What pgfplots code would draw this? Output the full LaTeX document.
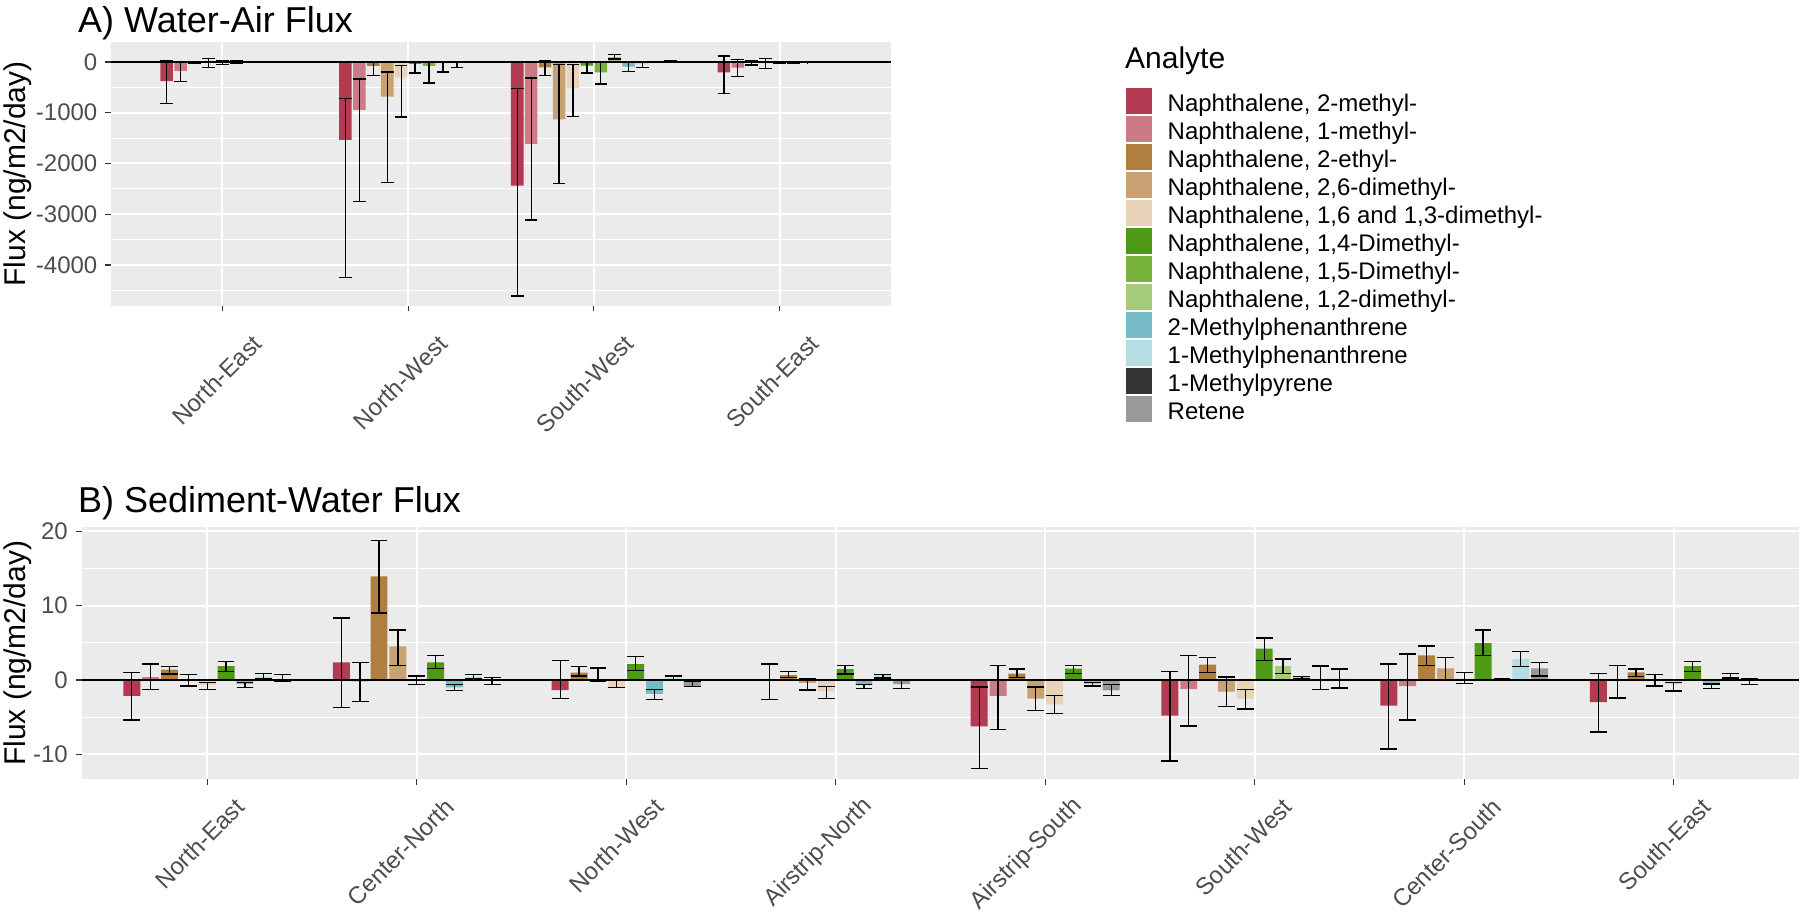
\documentclass[border=0pt]{standalone}
\usepackage{fontspec}
\setmainfont{Liberation Sans}
\usepackage{pgfplots}
\pgfplotsset{compat=1.18}
\usepackage{pgfplotstable}

\definecolor{cA}{HTML}{B23B52}
\definecolor{cB}{HTML}{CC7A86}
\definecolor{cC}{HTML}{B07E3F}
\definecolor{cD}{HTML}{C9A273}
\definecolor{cE}{HTML}{E8D3BA}
\definecolor{cF}{HTML}{4F9A14}
\definecolor{cG}{HTML}{77B23D}
\definecolor{cH}{HTML}{A3CB7B}
\definecolor{cI}{HTML}{77BAC8}
\definecolor{cJ}{HTML}{B5DDE4}
\definecolor{cK}{HTML}{333333}
\definecolor{cL}{HTML}{999999}
\definecolor{panelbg}{HTML}{EBEBEB}
\definecolor{ticktext}{HTML}{4D4D4D}
\definecolor{tickmark}{HTML}{333333}

% ---------- Panel A data: x  y  error-plus  error-minus ----------
\pgfplotstableread{
x y ep em
0.7 -375 401 439
1.6625 -1537 815 2712
2.5875 -2436 1911 2174
3.7 -204 322 420
}\Aa
\pgfplotstableread{
x y ep em
0.775 -177 171 211
1.7375 -946 611 1806
2.6625 -1615 1300 1498
3.775 -112 158 177
}\Ab
\pgfplotstableread{
x y ep em
0.85 -8 13 12
1.8125 -79 66 190
2.7375 -105 125 158
3.85 -15 35 44
}\Ac
\pgfplotstableread{
x y ep em
0.925 -15 88 89
1.8875 -683 486 1688
2.8125 -1130 1077 1260
3.925 -20 86 105
}\Ad
\pgfplotstableread{
x y ep em
1.0 -12 32 33
1.9625 -302 230 782
2.8875 -519 473 558
4.0 -5 18 15
}\Ae
\pgfplotstableread{
x y ep em
1.075 -5 30 20
2.0375 -39 26 178
2.9625 -72 65 145
4.075 -10 15 15
}\Af
\pgfplotstableread{
x y ep em
2.1125 -79 66 335
3.0375 -204 197 229
}\Ag
\pgfplotstableread{
x y ep em
3.1125 95 50 36
}\Ah
\pgfplotstableread{
x y ep em
1.15 -3 3 3
2.1875 -20 20 177
3.1875 -90 85 100
4.15 -12 3 3
}\Ai
\pgfplotstableread{
x y ep em
1.225 -2 2 2
2.2625 -10 10 95
3.2625 -46 40 58
4.225 -2 1 1
}\Aj
\pgfplotstableread{
x y ep em
1.3 -1 1 1
2.3375 -2 2 2
3.3375 -2 2 2
4.3 -1 1 1
}\Ak
\pgfplotstableread{
x y ep em
3.4125 20 3 3
}\Al

% ---------- Panel B data ----------
\pgfplotstableread{
x y ep em
0.64 -2.15 3.14 3.23
1.64 2.38 5.96 6.10
2.685 -1.35 3.95 1.12
3.685 0.02 2.13 2.67
4.685 -6.23 5.29 5.65
5.595 -4.8 5.97 6.1
6.64 -3.45 5.6 5.83
7.64 -2.96 3.81 4.04
}\Ba
\pgfplotstableread{
x y ep em
0.73 0.4 1.75 1.7
1.73 -0.18 2.51 2.73
4.775 -2.15 4.12 4.53
5.685 -1.21 4.53 4.98
6.73 -0.81 4.31 4.57
7.73 -0.1 2.07 2.32
}\Bb
\pgfplotstableread{
x y ep em
0.82 1.39 0.45 0.58
1.82 13.95 4.85 4.94
2.775 0.99 0.8 0.45
3.775 0.67 0.45 0.31
4.865 0.85 0.63 0.54
5.775 2.06 0.94 1.07
6.82 3.32 1.25 1.35
7.82 1.03 0.45 0.54
}\Bc
\pgfplotstableread{
x y ep em
0.91 -0.05 0.77 0.76
1.91 4.53 2.2 2.56
2.865 -0.15 1.76 0.03
3.865 -0.4 0.53 0.95
4.955 -2.51 1.57 1.57
5.865 -1.57 1.97 2.02
6.91 1.57 1.43 1.53
7.91 -0.05 0.77 0.76
}\Bd
\pgfplotstableread{
x y ep em
1.0 -0.67 0.36 0.63
2.0 -0.05 0.59 0.58
2.955 -0.95 0.86 0.08
3.955 -1.52 0.62 0.95
5.045 -3.27 1.21 1.26
5.955 -2.51 1.25 1.39
7.0 0.2 0.79 0.65
8.0 -0.58 0.27 0.9
}\Be
\pgfplotstableread{
x y ep em
1.09 1.88 0.63 0.76
2.09 2.38 0.94 0.86
3.045 2.15 0.99 0.89
4.045 1.48 0.49 0.67
5.135 1.52 0.45 0.67
6.045 4.22 1.43 1.57
7.09 4.98 1.75 1.71
8.09 1.88 0.63 0.71
}\Bf
\pgfplotstableread{
x y ep em
6.135 1.88 0.95 1.03
}\Bh
\pgfplotstableread{
x y ep em
1.18 -0.54 0.23 0.49
2.18 -1.0 0.37 0.43
3.135 -1.88 0.58 0.77
4.135 -0.67 0.02 0.5
5.225 -0.49 0.13 0.32
6.225 0.36 0.09 0.23
7.18 0.15 0.03 0.03
8.18 -0.58 0.04 0.54
}\Bi
\pgfplotstableread{
x y ep em
1.27 0.49 0.36 0.36
2.27 0.45 0.27 0.32
3.225 0.27 0.27 0.27
4.225 0.72 0.02 0.45
6.315 0.1 1.78 1.4
7.27 2.83 0.98 0.99
8.27 0.4 0.45 0.13
}\Bj
\pgfplotstableread{
x y ep em
1.36 -0.1 0.82 0.08
2.36 -0.1 0.46 0.53
3.315 -0.85 0.72 0.02
4.315 -0.54 0.45 0.63
5.315 -1.39 0.76 0.72
6.405 0.15 1.33 1.23
7.36 1.57 0.76 1.03
8.36 -0.1 0.32 0.53
}\Bl

\pgfplotsset{
  gg/.style={
    scale only axis,
    axis background/.style={fill=panelbg},
    axis line style={draw=none},
    tick align=outside,
    tick pos=left,
    major tick length=5.5pt,
    minor tick length=0pt,
    every tick/.append style={draw=tickmark, line width=1.1pt},
    xmajorgrids, ymajorgrids, yminorgrids,
    major grid style={draw=white, line width=2pt},
    minor grid style={draw=white, line width=1pt},
    tick label style={font=\fontsize{24}{28}\selectfont, text=ticktext},
    yticklabel style={anchor=east, inner sep=0pt, xshift=-8pt},
    error bars/y dir=both,
    error bars/y explicit,
    error bars/error bar style={draw=black, line width=1.3pt},
  },
  sqlegend/.style={legend image code/.code={\fill[##1] (0pt,-13pt) rectangle (26pt,13pt);}},
  barA/.style={ybar, bar width=0.0675, bar shift=0pt, draw=none, fill=#1, sqlegend},
  barB/.style={ybar, bar width=0.081, bar shift=0pt, draw=none, fill=#1},
}

\begin{document}
\begin{tikzpicture}[x=1pt,y=1pt]
\useasboundingbox (0,0) rectangle (1800,915);

% ---------------- Panel A ----------------
\begin{axis}[gg,
  at={(111pt,609pt)}, anchor=south west,
  width=780pt, height=264pt,
  xmin=0.4, xmax=4.6, ymin=-4808, ymax=394,
  xtick={1,2,3,4},
  xticklabels={North-East,North-West,South-West,South-East},
  xticklabel style={inner sep=0pt, xshift=35pt, yshift=-28pt, rotate=45, anchor=east},
  ytick={-4000,-3000,-2000,-1000,0},
  yticklabels={-4000,-3000,-2000,-1000,0},
  minor ytick={-4500,-3500,-2500,-1500,-500},
  ylabel={Flux (ng/m2/day)},
  every axis y label/.style={at={(axis description cs:0,0.5)}, xshift=-93pt, rotate=90, anchor=center, font=\fontsize{30}{36}\selectfont},
  error bars/error mark options={draw=black, line width=1.3pt, mark size=6.3pt, rotate=90},
  legend style={at={(1.3009,0.8307)}, anchor=north west, draw=none, fill=none,
    inner sep=0pt, outer sep=0pt, row sep=0pt,
    font=\fontsize{24}{28}\selectfont,
    nodes={inner sep=0pt, text height=25pt, text depth=3pt},
    /tikz/every odd column/.append style={column sep=16pt}},
  legend cell align=left,
]
\addplot[barA=cA] table[x=x,y=y,y error plus=ep,y error minus=em]{\Aa};
\addlegendentry{Naphthalene, 2-methyl-}
\addplot[barA=cB] table[x=x,y=y,y error plus=ep,y error minus=em]{\Ab};
\addlegendentry{Naphthalene, 1-methyl-}
\addplot[barA=cC] table[x=x,y=y,y error plus=ep,y error minus=em]{\Ac};
\addlegendentry{Naphthalene, 2-ethyl-}
\addplot[barA=cD] table[x=x,y=y,y error plus=ep,y error minus=em]{\Ad};
\addlegendentry{Naphthalene, 2,6-dimethyl-}
\addplot[barA=cE] table[x=x,y=y,y error plus=ep,y error minus=em]{\Ae};
\addlegendentry{Naphthalene, 1,6 and 1,3-dimethyl-}
\addplot[barA=cF] table[x=x,y=y,y error plus=ep,y error minus=em]{\Af};
\addlegendentry{Naphthalene, 1,4-Dimethyl-}
\addplot[barA=cG] table[x=x,y=y,y error plus=ep,y error minus=em]{\Ag};
\addlegendentry{Naphthalene, 1,5-Dimethyl-}
\addplot[barA=cH] table[x=x,y=y,y error plus=ep,y error minus=em]{\Ah};
\addlegendentry{Naphthalene, 1,2-dimethyl-}
\addplot[barA=cI] table[x=x,y=y,y error plus=ep,y error minus=em]{\Ai};
\addlegendentry{2-Methylphenanthrene}
\addplot[barA=cJ] table[x=x,y=y,y error plus=ep,y error minus=em]{\Aj};
\addlegendentry{1-Methylphenanthrene}
\addplot[barA=cK] table[x=x,y=y,y error plus=ep,y error minus=em]{\Ak};
\addlegendentry{1-Methylpyrene}
\addplot[barA=cL] table[x=x,y=y,y error plus=ep,y error minus=em]{\Al};
\addlegendentry{Retene}
\draw[black, line width=1.4pt] (axis cs:0.4,0) -- (axis cs:4.6,0);
\end{axis}

% ---------------- Panel B ----------------
\begin{axis}[gg,
  at={(81.5pt,135.7pt)}, anchor=south west,
  width=1718pt, height=252pt,
  xmin=0.4, xmax=8.6, ymin=-13.36, ymax=20.55,
  xtick={1,2,3,4,5,6,7,8},
  xticklabels={North-East,Center-North,North-West,Airstrip-North,Airstrip-South,South-West,Center-South,South-East},
  xticklabel style={inner sep=0pt, xshift=33pt, yshift=-18pt, rotate=45, anchor=east},
  ytick={-10,0,10,20},
  yticklabels={-10,0,10,20},
  minor ytick={-5,5,15},
  ylabel={Flux (ng/m2/day)},
  every axis y label/.style={at={(axis description cs:0,0.5)}, xshift=-63.5pt, rotate=90, anchor=center, font=\fontsize{30}{36}\selectfont},
  error bars/error mark options={draw=black, line width=1.3pt, mark size=8.4pt, rotate=90},
]
\addplot[barB=cA] table[x=x,y=y,y error plus=ep,y error minus=em]{\Ba};
\addplot[barB=cB] table[x=x,y=y,y error plus=ep,y error minus=em]{\Bb};
\addplot[barB=cC] table[x=x,y=y,y error plus=ep,y error minus=em]{\Bc};
\addplot[barB=cD] table[x=x,y=y,y error plus=ep,y error minus=em]{\Bd};
\addplot[barB=cE] table[x=x,y=y,y error plus=ep,y error minus=em]{\Be};
\addplot[barB=cF] table[x=x,y=y,y error plus=ep,y error minus=em]{\Bf};
\addplot[barB=cH] table[x=x,y=y,y error plus=ep,y error minus=em]{\Bh};
\addplot[barB=cI] table[x=x,y=y,y error plus=ep,y error minus=em]{\Bi};
\addplot[barB=cJ] table[x=x,y=y,y error plus=ep,y error minus=em]{\Bj};
\addplot[barB=cL] table[x=x,y=y,y error plus=ep,y error minus=em]{\Bl};
\draw[black, line width=1.4pt] (axis cs:0.4,0) -- (axis cs:8.6,0);
\end{axis}

% ---------------- Titles ----------------
\node[anchor=base west, inner sep=0pt, font=\fontsize{36}{43}\selectfont] at (78,882) {A) Water-Air Flux};
\node[anchor=base west, inner sep=0pt, font=\fontsize{36}{43}\selectfont] at (78,402) {B) Sediment-Water Flux};
\node[anchor=base west, inner sep=0pt, font=\fontsize{30}{36}\selectfont] at (1125,846) {Analyte};
\end{tikzpicture}
\end{document}
